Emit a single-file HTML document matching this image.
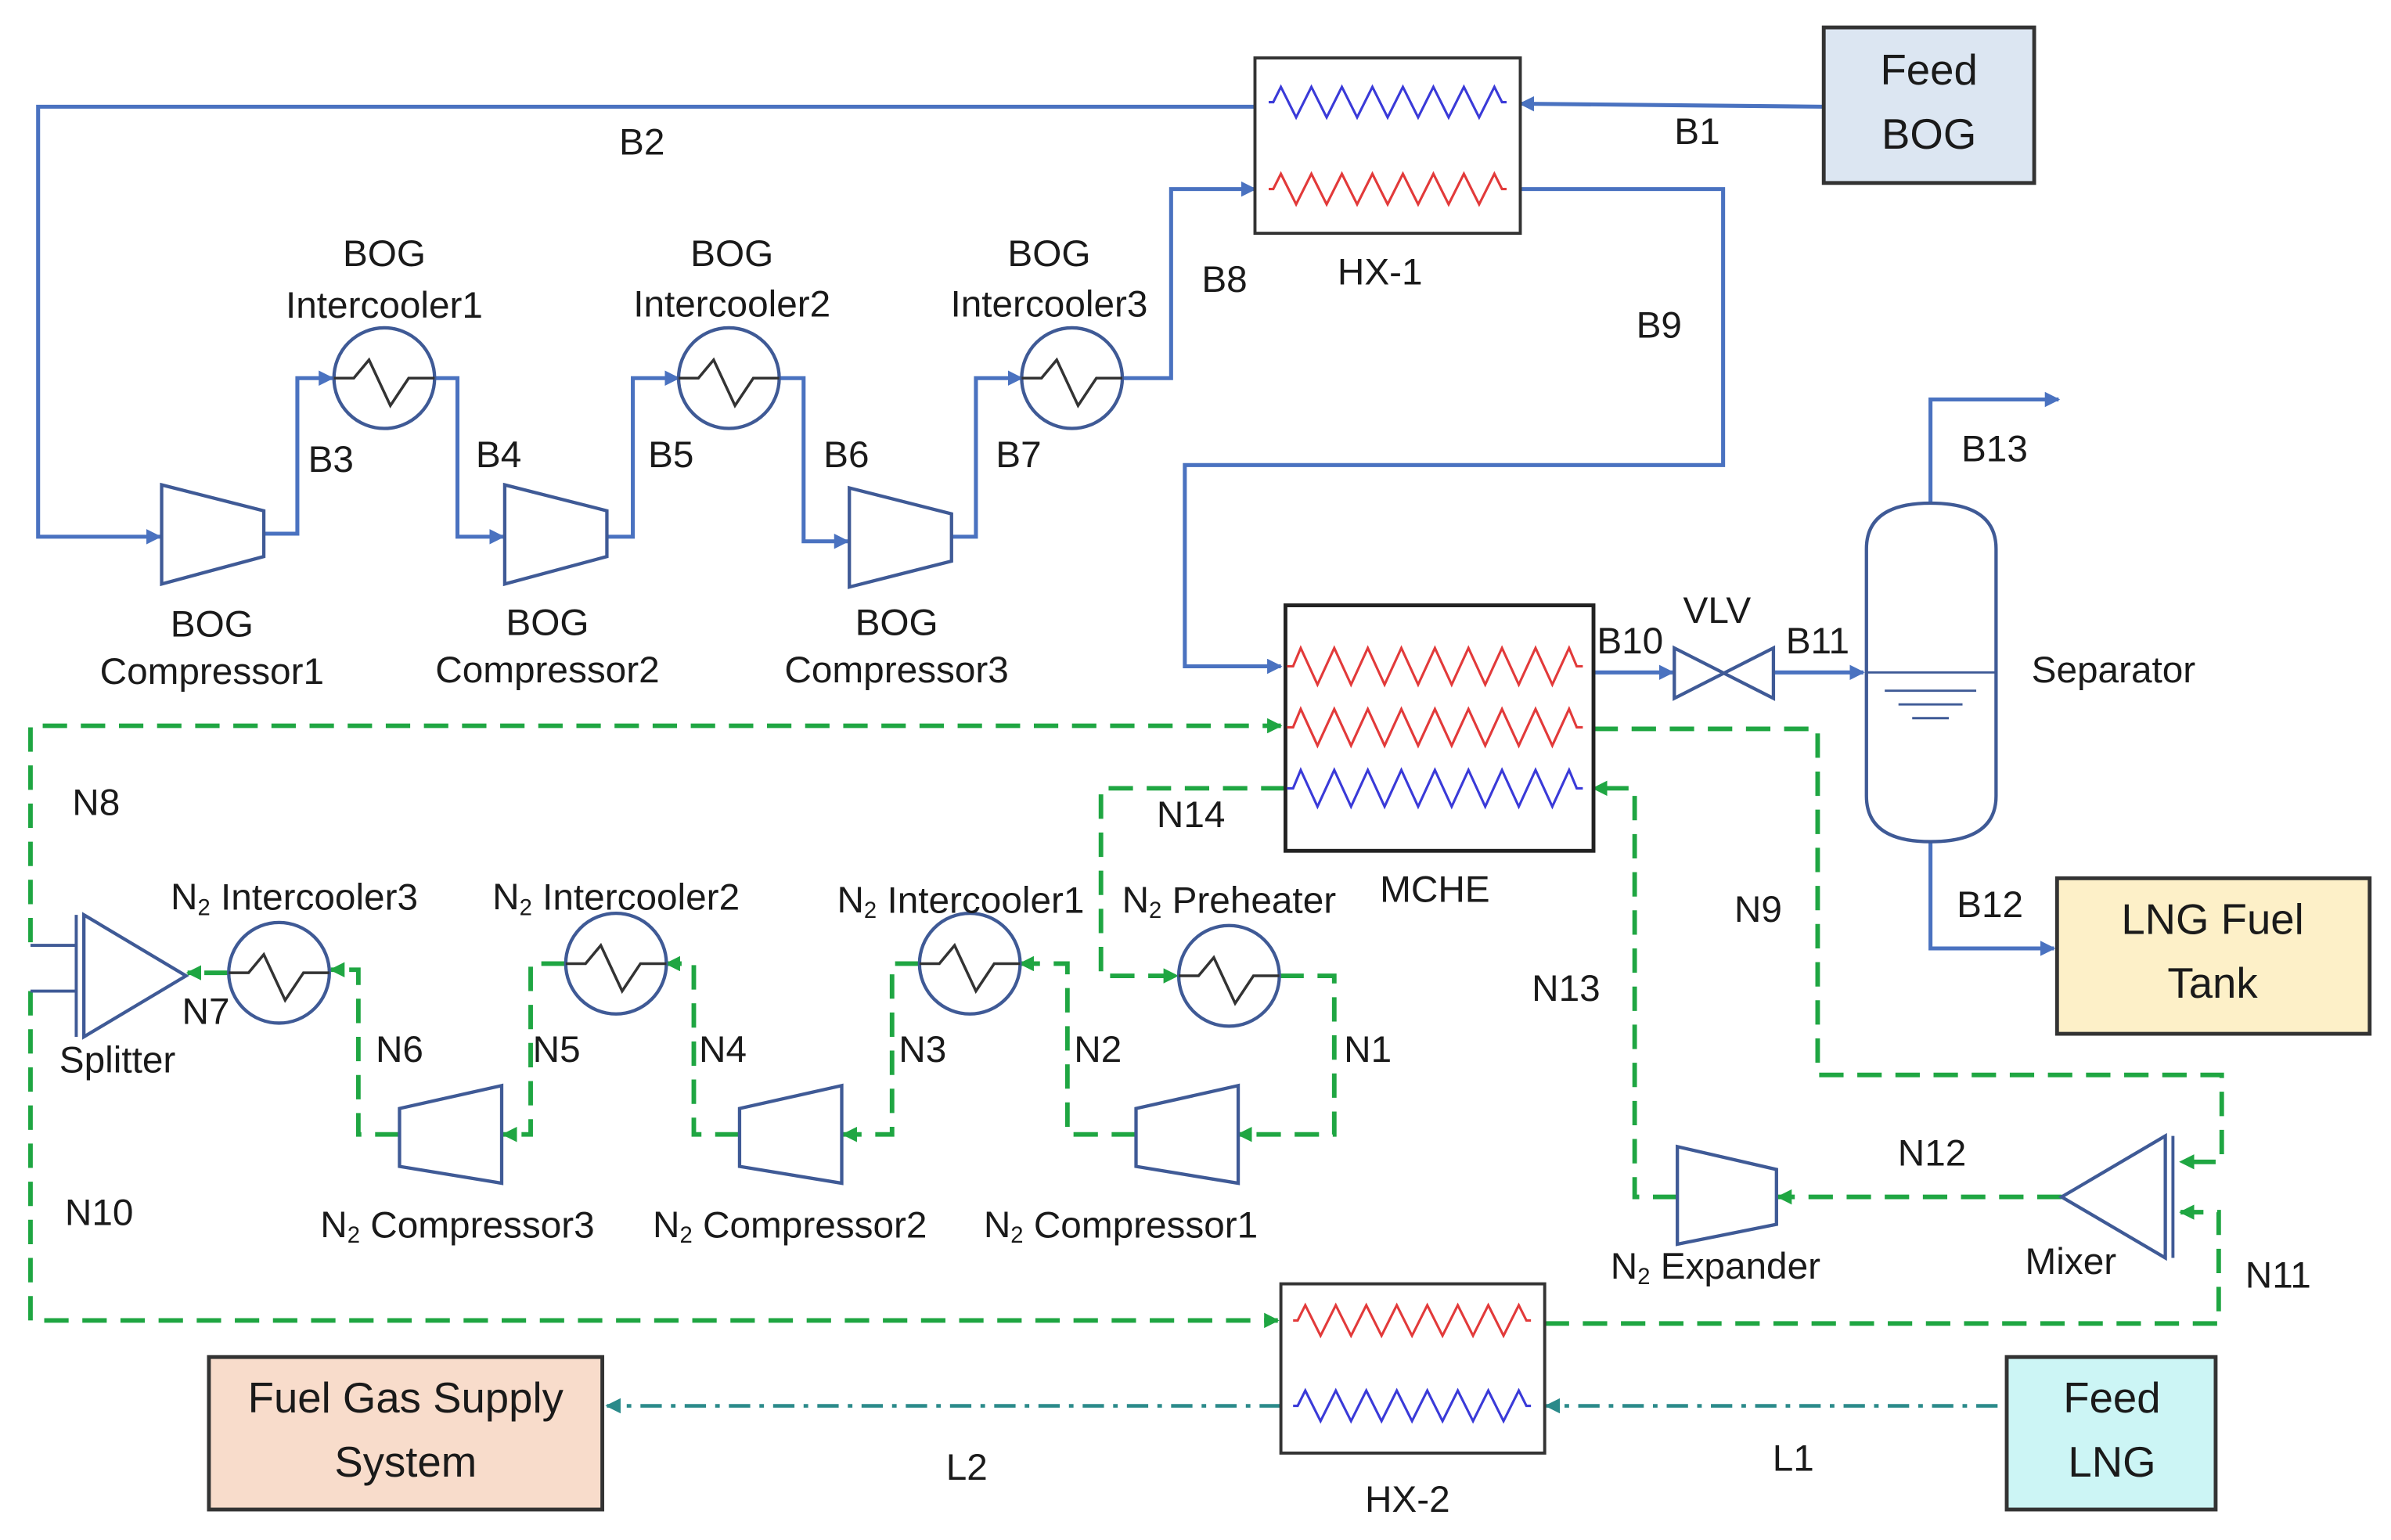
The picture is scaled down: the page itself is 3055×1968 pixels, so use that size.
<!DOCTYPE html>
<html><head><meta charset="utf-8"><style>
html,body{margin:0;padding:0;background:#fff}
svg{display:block}
text{font-family:"Liberation Sans",sans-serif;font-size:24.5px;fill:#1a1a1a;text-anchor:middle;dominant-baseline:middle}
.b{fill:none;stroke:#4a72c0;stroke-width:2.6}
.g{fill:none;stroke:#1fa642;stroke-width:3;stroke-dasharray:16 9}
.l{fill:none;stroke:#2a8a8a;stroke-width:2.4;stroke-dasharray:14 6 3 6}
.eq{fill:#fff;stroke:#3f5a96;stroke-width:2.2}
.zr{fill:none;stroke:#e23a3a;stroke-width:1.6}
.zb{fill:none;stroke:#3a3ad8;stroke-width:1.6}
</style></head><body>
<svg width="3055" height="1968" viewBox="0 0 1568 1010" preserveAspectRatio="none">
<defs>
<marker id="ab" markerWidth="10" markerHeight="10" refX="9" refY="5" orient="auto" markerUnits="userSpaceOnUse"><path d="M0,0 L10,5 L0,10z" fill="#4a72c0"/></marker>
<marker id="ag" markerWidth="10" markerHeight="10" refX="9" refY="5" orient="auto" markerUnits="userSpaceOnUse"><path d="M0,0 L10,5 L0,10z" fill="#1fa642"/></marker>
<marker id="al" markerWidth="10" markerHeight="10" refX="9" refY="5" orient="auto" markerUnits="userSpaceOnUse"><path d="M0,0 L10,5 L0,10z" fill="#2a8a8a"/></marker>
<path id="zz" d="m0,0 h3 l5,-10 l10,20 l10,-20 l10,20 l10,-20 l10,20 l10,-20 l10,20 l10,-20 l10,20 l10,-20 l10,20 l10,-20 l10,20 l10,-20 l5,10 h3"/>
<path id="zz2" d="m0,0 h4 l5,-12 l11,24 l11,-24 l11,24 l11,-24 l11,24 l11,-24 l11,24 l11,-24 l11,24 l11,-24 l11,24 l11,-24 l11,24 l11,-24 l11,24 l11,-24 l5,12 h4"/>
<g id="hx"><circle r="33" class="eq"/><path d="M-33,0 L-20,0 L-10,-12 L4,18 L16,0 L33,0" fill="none" stroke="#333" stroke-width="1.8"/></g>
</defs>

<path class="b" d="M1196,70 L997,68" marker-end="url(#ab)"/>
<path class="b" d="M823,70 L25,70 L25,352 L105,352" marker-end="url(#ab)"/>
<path class="b" d="M173,350 L195,350 L195,248 L218,248" marker-end="url(#ab)"/>
<path class="b" d="M285,248 L300,248 L300,352 L330,352" marker-end="url(#ab)"/>
<path class="b" d="M398,352 L415,352 L415,248 L445,248" marker-end="url(#ab)"/>
<path class="b" d="M511,248 L527,248 L527,355 L556,355" marker-end="url(#ab)"/>
<path class="b" d="M624,352 L640,352 L640,248 L670,248" marker-end="url(#ab)"/>
<path class="b" d="M736,248 L768,248 L768,124 L823,124" marker-end="url(#ab)"/>
<path class="b" d="M997,124 L1130,124 L1130,305 L777,305 L777,437 L840,437" marker-end="url(#ab)"/>
<path class="b" d="M1045,441 L1097,441" marker-end="url(#ab)"/>
<path class="b" d="M1163,441 L1222,441" marker-end="url(#ab)"/>
<path class="b" d="M1266,332 L1266,262 L1350,262" marker-end="url(#ab)"/>
<path class="b" d="M1266,550 L1266,622 L1347,622" marker-end="url(#ab)"/>

<path class="g" d="M20,618 L20,476 L840,476" marker-end="url(#ag)"/>
<path class="g" d="M20,650 L20,866 L838,866" marker-end="url(#ag)"/>
<line x1="20" y1="620" x2="50" y2="620" stroke="#3f5a96" stroke-width="2"/>
<line x1="20" y1="650" x2="50" y2="650" stroke="#3f5a96" stroke-width="2"/>
<path class="g" d="M1013,868 L1455,868 L1455,795 L1430,795" marker-end="url(#ag)"/>
<path class="g" d="M1045,478 L1192,478 L1192,705 L1457,705 L1457,762 L1430,762" marker-end="url(#ag)"/>
<path class="g" d="M1352,785 L1166,785" marker-end="url(#ag)"/>
<path class="g" d="M1100,785 L1072,785 L1072,517 L1045,517" marker-end="url(#ag)"/>
<path class="g" d="M843,517 L722,517 L722,640 L772,640" marker-end="url(#ag)"/>
<path class="g" d="M839,640 L875,640 L875,744 L812,744" marker-end="url(#ag)"/>
<path class="g" d="M745,744 L700,744 L700,632 L669,632" marker-end="url(#ag)"/>
<path class="g" d="M603,632 L585,632 L585,744 L553,744" marker-end="url(#ag)"/>
<path class="g" d="M485,744 L455,744 L455,632 L437,632" marker-end="url(#ag)"/>
<path class="g" d="M371,632 L348,632 L348,744 L330,744" marker-end="url(#ag)"/>
<path class="g" d="M262,744 L235,744 L235,636 L217,636" marker-end="url(#ag)"/>
<path class="g" d="M150,638 L123,638" marker-end="url(#ag)"/>

<path class="l" d="M1310,922 L1014,922" marker-end="url(#al)"/>
<path class="l" d="M840,922 L398,922" marker-end="url(#al)"/>

<rect x="823" y="38" width="174" height="115" fill="#fff" stroke="#333" stroke-width="2"/>
<use href="#zz" x="832" y="67" class="zb"/>
<use href="#zz" x="832" y="124" class="zr"/>
<rect x="843" y="397" width="202" height="161" fill="#fff" stroke="#222" stroke-width="2.5"/>
<use href="#zz2" x="844" y="437" class="zr"/>
<use href="#zz2" x="844" y="477" class="zr"/>
<use href="#zz2" x="844" y="517" class="zb"/>
<rect x="840" y="842" width="173" height="111" fill="#fff" stroke="#333" stroke-width="2"/>
<use href="#zz" x="848" y="866" class="zr"/>
<use href="#zz" x="848" y="922" class="zb"/>

<rect x="1196" y="18" width="138" height="102" fill="#dce6f2" stroke="#333" stroke-width="2.5"/>
<rect x="1349" y="576" width="205" height="102" fill="#fdf0c8" stroke="#333" stroke-width="2.5"/>
<rect x="1316" y="890" width="137" height="100" fill="#ccf5f5" stroke="#333" stroke-width="2.5"/>
<rect x="137" y="890" width="258" height="100" fill="#f8dccb" stroke="#333" stroke-width="2.5"/>
<text x="1265" y="48" style="font-size:28px">Feed</text>
<text x="1265" y="90" style="font-size:28px">BOG</text>
<text x="1451" y="605" style="font-size:28px">LNG Fuel</text>
<text x="1451" y="647" style="font-size:28px">Tank</text>
<text x="1385" y="919" style="font-size:28px">Feed</text>
<text x="1385" y="961" style="font-size:28px">LNG</text>
<text x="266" y="919" style="font-size:28px">Fuel Gas Supply</text>
<text x="266" y="961" style="font-size:28px">System</text>

<path class="eq" d="M106,318 L173,335 L173,365 L106,383z"/>
<path class="eq" d="M331,318 L398,335 L398,365 L331,383z"/>
<path class="eq" d="M557,320 L624,337 L624,368 L557,385z"/>
<path class="eq" d="M812,712 L745,727 L745,765 L812,776z"/>
<path class="eq" d="M552,712 L485,727 L485,765 L552,776z"/>
<path class="eq" d="M329,712 L262,727 L262,765 L329,776z"/>
<path class="eq" d="M1100,752 L1165,767 L1165,803 L1100,816z"/>

<use href="#hx" x="252" y="248"/>
<use href="#hx" x="478" y="248"/>
<use href="#hx" x="703" y="248"/>
<use href="#hx" x="806" y="640"/>
<use href="#hx" x="636" y="632"/>
<use href="#hx" x="404" y="632"/>
<use href="#hx" x="183" y="638"/>

<path class="eq" d="M1098,425 L1163,458 L1163,425 L1098,458z"/>
<path class="eq" d="M1224,360 Q1224,330 1266,330 Q1309,330 1309,360 L1309,522 Q1309,552 1266,552 Q1224,552 1224,522z"/>
<line x1="1224" y1="441" x2="1309" y2="441" stroke="#3f5a96" stroke-width="1.5"/>
<line x1="1236" y1="453" x2="1296" y2="453" stroke="#3f5a96" stroke-width="1.5"/>
<line x1="1245" y1="462" x2="1287" y2="462" stroke="#3f5a96" stroke-width="1.5"/>
<line x1="1254" y1="471" x2="1278" y2="471" stroke="#3f5a96" stroke-width="1.5"/>
<path class="eq" d="M55,600 L122,640 L55,680z"/>
<line x1="50" y1="600" x2="50" y2="680" stroke="#3f5a96" stroke-width="2"/>
<path class="eq" d="M1420,745 L1352,785 L1420,825z"/>
<line x1="1425" y1="745" x2="1425" y2="825" stroke="#3f5a96" stroke-width="2"/>

<text x="1113" y="88">B1</text><text x="421" y="95">B2</text><text x="217" y="303">B3</text>
<text x="327" y="300">B4</text><text x="440" y="300">B5</text><text x="555" y="300">B6</text>
<text x="668" y="300">B7</text><text x="803" y="185">B8</text><text x="1088" y="215">B9</text>
<text x="1069" y="422">B10</text><text x="1192" y="422">B11</text><text x="1126" y="402">VLV</text>
<text x="1308" y="296">B13</text><text x="1305" y="595">B12</text><text x="1386" y="441">Separator</text>
<text x="905" y="180">HX-1</text><text x="941" y="585">MCHE</text><text x="923" y="985">HX-2</text>
<text x="252" y="168">BOG</text><text x="252" y="202">Intercooler1</text>
<text x="480" y="168">BOG</text><text x="480" y="201">Intercooler2</text>
<text x="688" y="168">BOG</text><text x="688" y="201">Intercooler3</text>
<text x="139" y="411">BOG</text><text x="139" y="442">Compressor1</text>
<text x="359" y="410">BOG</text><text x="359" y="441">Compressor2</text>
<text x="588" y="410">BOG</text><text x="588" y="441">Compressor3</text>
<text x="63" y="528">N8</text><text x="65" y="797">N10</text><text x="781" y="536">N14</text>
<text x="1153" y="598">N9</text><text x="1027" y="650">N13</text><text x="1267" y="758">N12</text>
<text x="1494" y="838">N11</text><text x="1358" y="829">Mixer</text><text x="77" y="697">Splitter</text>
<text x="135" y="665">N7</text><text x="262" y="690">N6</text><text x="365" y="690">N5</text>
<text x="474" y="690">N4</text><text x="605" y="690">N3</text><text x="720" y="690">N2</text><text x="897" y="690">N1</text>
<text x="193" y="590">N<tspan font-size="15" dy="6">2</tspan><tspan dy="-6"> Intercooler3</tspan></text>
<text x="404" y="590">N<tspan font-size="15" dy="6">2</tspan><tspan dy="-6"> Intercooler2</tspan></text>
<text x="630" y="592">N<tspan font-size="15" dy="6">2</tspan><tspan dy="-6"> Intercooler1</tspan></text>
<text x="806" y="592">N<tspan font-size="15" dy="6">2</tspan><tspan dy="-6"> Preheater</tspan></text>
<text x="300" y="805">N<tspan font-size="15" dy="6">2</tspan><tspan dy="-6"> Compressor3</tspan></text>
<text x="518" y="805">N<tspan font-size="15" dy="6">2</tspan><tspan dy="-6"> Compressor2</tspan></text>
<text x="735" y="805">N<tspan font-size="15" dy="6">2</tspan><tspan dy="-6"> Compressor1</tspan></text>
<text x="1125" y="832">N<tspan font-size="15" dy="6">2</tspan><tspan dy="-6"> Expander</tspan></text>
<text x="634" y="964">L2</text><text x="1176" y="958">L1</text>
</svg>
</body></html>
